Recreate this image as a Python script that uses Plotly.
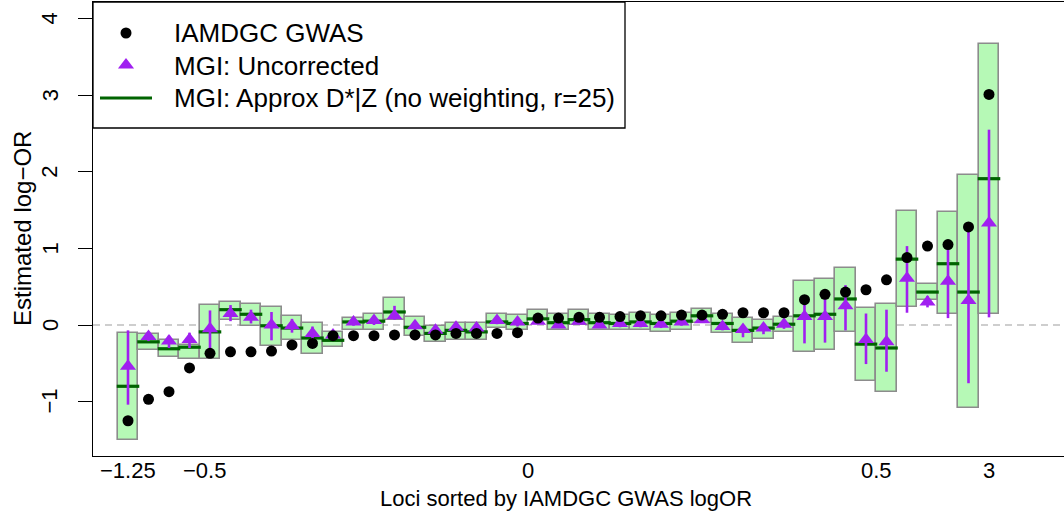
import numpy as np
import plotly.graph_objects as go

# IAMDGC GWAS log odds ratios, loci sorted ascending
gwas_logor = [-1.25, -0.97, -0.87, -0.56, -0.37, -0.35, -0.35, -0.34, -0.26, -0.24,
              -0.14, -0.14, -0.14, -0.13, -0.13, -0.13, -0.11, -0.11, -0.11, -0.10,
              0.09, 0.09, 0.10, 0.10, 0.11, 0.12, 0.12, 0.13, 0.13, 0.14,
              0.16, 0.16, 0.16, 0.33, 0.40, 0.43, 0.46, 0.59, 0.88, 1.03,
              1.05, 1.28, 3.01]

# MGI uncorrected estimates with interval ends
mgi_uncorr = [-0.54, -0.15, -0.21, -0.19, -0.05, 0.15, 0.10, 0.00, -0.01, -0.11,
              -0.13, 0.04, 0.06, 0.12, -0.01, -0.07, -0.03, -0.04, 0.06, 0.04,
              0.05, 0.00, 0.05, 0.00, 0.02, 0.02, 0.01, 0.04, 0.07, -0.02,
              -0.06, -0.04, 0.01, 0.11, 0.11, 0.25, -0.19, -0.22, 0.61, 0.30,
              0.57, 0.32, 1.33]
mgi_uncorr_lo = [-1.04, -0.21, -0.30, -0.30, -0.35, 0.05, 0.02, -0.20, -0.10, -0.20,
                 -0.18, -0.01, 0.00, 0.07, -0.08, -0.14, -0.09, -0.10, 0.01, -0.02,
                 0.02, -0.04, 0.02, -0.04, -0.03, -0.03, -0.04, -0.01, 0.04, -0.07,
                 -0.16, -0.12, -0.05, -0.24, -0.23, -0.07, -0.51, -0.61, 0.16, 0.23,
                 0.09, -0.76, 0.10]
mgi_uncorr_hi = [-0.07, -0.10, -0.14, -0.10, 0.19, 0.26, 0.20, 0.17, 0.08, -0.02,
                 -0.09, 0.08, 0.12, 0.25, 0.05, -0.03, 0.02, 0.01, 0.10, 0.08,
                 0.09, 0.05, 0.09, 0.05, 0.06, 0.06, 0.05, 0.08, 0.11, 0.03,
                 0.00, 0.01, 0.06, 0.39, 0.39, 0.52, 0.15, 0.20, 1.03, 0.38,
                 1.00, 1.24, 2.55]

# MGI approximate D*|Z estimates (no weighting, r=25) with interval ends
mgi_approx = [-0.80, -0.22, -0.31, -0.29, -0.09, 0.20, 0.14, -0.01, -0.04, -0.17,
              -0.20, 0.04, 0.05, 0.17, -0.03, -0.11, -0.07, -0.09, 0.04, 0.02,
              0.08, 0.03, 0.07, 0.03, 0.02, 0.04, 0.02, 0.05, 0.12, 0.02,
              -0.07, -0.04, 0.01, 0.12, 0.14, 0.34, -0.25, -0.30, 0.86, 0.43,
              0.80, 0.43, 1.91]
mgi_approx_lo = [-1.50, -0.33, -0.42, -0.44, -0.44, 0.07, -0.01, -0.27, -0.20, -0.38,
                 -0.29, -0.06, -0.07, 0.07, -0.15, -0.22, -0.20, -0.20, -0.04, -0.07,
                 0.06, -0.07, 0.00, -0.07, -0.07, -0.07, -0.09, -0.06, 0.02, -0.10,
                 -0.23, -0.18, -0.09, -0.35, -0.32, -0.09, -0.73, -0.87, 0.24, 0.32,
                 0.14, -1.09, 0.14]
mgi_approx_hi = [-0.11, -0.12, -0.20, -0.26, 0.26, 0.30, 0.27, 0.24, 0.12, 0.03,
                 -0.09, 0.09, 0.14, 0.35, 0.10, -0.01, 0.03, 0.02, 0.15, 0.13,
                 0.19, 0.15, 0.20, 0.14, 0.13, 0.16, 0.13, 0.16, 0.21, 0.14,
                 0.09, 0.07, 0.11, 0.58, 0.60, 0.75, 0.22, 0.27, 1.49, 0.54,
                 1.47, 1.96, 3.67]

# x-axis labels (GWAS logOR) and where they sit along the sorted loci
x_tick_text = ["\u22121.25", "\u22120.5", "0", "0.5", "3"]
x_tick_locus = [0, 3.75, 19.5, 36.5, 42]
y_tick_vals = [-1, 0, 1, 2, 3, 4]

legend_labels = ["IAMDGC GWAS", "MGI: Uncorrected", "MGI: Approx D*|Z (no weighting, r=25)"]

FONT = "Liberation Sans, Arial, Helvetica, sans-serif"
PURPLE = "#A020F0"
DKGREEN = "#006400"
BOX_FILL = "#B6F9B6"
BOX_EDGE = "#8C8C8C"

W, H = 1064, 518
L, R, T, B = 93, 0, 2, 62
PW = W - L - R   # plot width in pixels
PH = H - T - B   # plot height in pixels


def px_x(px):
    """Horizontal pixel -> paper coordinate."""
    return (px - L) / PW


def px_y(py):
    """Vertical pixel (from top) -> paper coordinate."""
    return (H - B - py) / PH


idx = np.arange(len(gwas_logor))
approx = np.array(mgi_approx)
a_lo = np.array(mgi_approx_lo)
a_hi = np.array(mgi_approx_hi)
unc = np.array(mgi_uncorr)
u_lo = np.array(mgi_uncorr_lo)
u_hi = np.array(mgi_uncorr_hi)

fig = go.Figure()

# interval boxes for the approximate estimator
fig.add_trace(go.Bar(
    x=idx, y=a_hi - a_lo, base=a_lo, width=1.0,
    marker=dict(color=BOX_FILL, line=dict(color=BOX_EDGE, width=1.6)),
    showlegend=False, hoverinfo="skip"))

# point estimate of the approximate estimator: short horizontal bars
seg_x, seg_y = [], []
for i, v in zip(idx, approx):
    seg_x += [i - 0.55, i + 0.55, None]
    seg_y += [v, v, None]
fig.add_trace(go.Scatter(
    x=seg_x, y=seg_y, mode="lines",
    line=dict(color=DKGREEN, width=3.2), showlegend=False, hoverinfo="skip"))

# uncorrected estimates with intervals
fig.add_trace(go.Scatter(
    x=idx, y=unc, mode="markers",
    marker=dict(symbol="triangle-up", size=14, color=PURPLE),
    error_y=dict(type="data", symmetric=False, array=u_hi - unc, arrayminus=unc - u_lo,
                 color=PURPLE, thickness=2.6, width=0),
    showlegend=False, hoverinfo="skip"))

# GWAS estimates
fig.add_trace(go.Scatter(
    x=idx, y=gwas_logor, mode="markers",
    marker=dict(symbol="circle", size=11, color="black"),
    showlegend=False, hoverinfo="skip"))

# pixel-space overlay for the legend keys
fig.add_trace(go.Scatter(
    x=[126], y=[33], xaxis="x2", yaxis="y2", mode="markers",
    marker=dict(symbol="circle", size=11, color="black"),
    showlegend=False, hoverinfo="skip"))
fig.add_trace(go.Scatter(
    x=[126], y=[65], xaxis="x2", yaxis="y2", mode="markers",
    marker=dict(symbol="triangle-up", size=14, color=PURPLE),
    showlegend=False, hoverinfo="skip"))
fig.add_trace(go.Scatter(
    x=[100, 152], y=[98, 98], xaxis="x2", yaxis="y2", mode="lines",
    line=dict(color=DKGREEN, width=3.2),
    showlegend=False, hoverinfo="skip"))

shapes = [
    # dashed reference line at zero
    dict(type="line", xref="paper", x0=0, x1=1, yref="y", y0=0, y1=0,
         line=dict(color="#BEBEBE", width=1.3, dash="7px,5px"), layer="below"),
    # legend frame
    dict(type="rect", xref="x2", yref="y2", x0=L, x1=625, y0=T, y1=128,
         line=dict(color="black", width=1.3), fillcolor="white", layer="below"),
]

annotations = []
for k, lab in enumerate(legend_labels):
    annotations.append(dict(
        xref="x2", yref="y2", x=172, y=33 + 32.5 * k, text=lab, showarrow=False,
        xanchor="left", yanchor="middle", font=dict(family=FONT, size=26, color="black")))

# y tick labels, written parallel to the axis
for v in y_tick_vals:
    annotations.append(dict(
        xref="paper", yref="y", x=px_x(50), y=v,
        text=("\u2212" + str(-v)) if v < 0 else str(v),
        textangle=-90, showarrow=False, xanchor="center", yanchor="middle",
        font=dict(family=FONT, size=22, color="black")))

# x tick labels
for pos, lab in zip(x_tick_locus, x_tick_text):
    annotations.append(dict(
        xref="x", yref="paper", x=pos, y=px_y(470), text=lab,
        showarrow=False, xanchor="center", yanchor="middle",
        font=dict(family=FONT, size=22, color="black")))

annotations.append(dict(
    xref="paper", yref="paper", x=px_x(22), y=px_y(229), text="Estimated log\u2212OR",
    textangle=-90, showarrow=False, xanchor="center", yanchor="middle",
    font=dict(family=FONT, size=24, color="black")))
annotations.append(dict(
    xref="paper", yref="paper", x=px_x(566), y=px_y(498),
    text="Loci sorted by IAMDGC GWAS logOR",
    showarrow=False, xanchor="center", yanchor="middle",
    font=dict(family=FONT, size=22, color="black")))

# locus axis is 20.5 px per locus, first locus at pixel 128
x_lo = (L - 128) / 20.5
x_hi = (W - R - 128) / 20.5
y_lo = (325 - (H - B)) / 76.6
y_hi = (325 - T) / 76.6

fig.update_layout(
    width=W, height=H,
    margin=dict(l=L, r=R, t=T, b=B, pad=0),
    paper_bgcolor="white", plot_bgcolor="white",
    font=dict(family=FONT, size=22, color="black"),
    bargap=0,
    xaxis=dict(range=[x_lo, x_hi], showgrid=False, zeroline=False,
               showline=True, mirror=True, linecolor="black", linewidth=1.3,
               ticks="", showticklabels=False),
    yaxis=dict(range=[y_lo, y_hi], showgrid=False, zeroline=False,
               showline=True, mirror=False, linecolor="black", linewidth=1.3,
               tickmode="array", tickvals=y_tick_vals, ticks="outside", ticklen=14,
               tickwidth=1.3, tickcolor="black", showticklabels=False),
    xaxis2=dict(range=[L, W - R], overlaying="x", visible=False, fixedrange=True),
    yaxis2=dict(range=[H - B, T], overlaying="y", visible=False, fixedrange=True),
    shapes=shapes,
    annotations=annotations,
    showlegend=False,
)

fig.write_html("out.html")
